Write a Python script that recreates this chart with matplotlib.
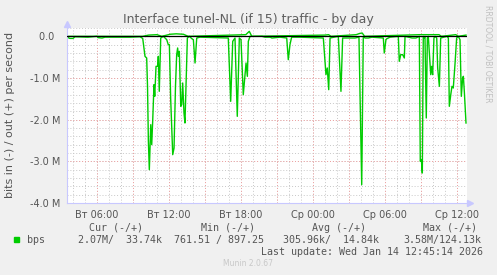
import numpy as np
import matplotlib
matplotlib.use("Agg")
import matplotlib.pyplot as plt

# inbound traffic (drawn negative), Mbit/s, hours since Tue 00:00
in_hours = [3.50, 3.75, 4.00, 4.17, 5.25, 6.00, 6.08, 6.42, 6.67, 8.25, 8.75, 9.58,
            9.81, 9.92, 10.00, 10.14, 10.21, 10.28, 10.36, 10.48, 10.56, 10.64, 10.75,
            10.81, 10.92, 11.06, 11.11, 11.19, 11.31, 11.53, 11.67, 11.81, 11.94, 12.03,
            12.14, 12.31, 12.42, 12.54, 12.64, 12.72, 12.78, 12.86, 12.98, 13.06, 13.14,
            13.25, 13.33, 13.42, 13.53, 13.69, 13.92, 14.03, 14.17, 14.31, 14.58, 16.94,
            17.14, 17.31, 17.50, 17.69, 17.86, 18.00, 18.19, 18.33, 18.42, 18.53, 18.61,
            18.75, 19.75, 20.00, 20.42, 20.58, 21.25, 21.81, 21.94, 22.08, 22.22, 22.92,
            24.86, 25.08, 25.19, 25.31, 25.42, 26.11, 26.33, 26.47, 27.50, 27.83, 28.06,
            28.19, 28.33, 28.61, 28.92, 29.86, 29.94, 30.08, 30.14, 30.42, 31.11, 31.19,
            31.31, 31.47, 31.61, 31.67, 32.25, 32.58, 32.86, 32.94, 33.03, 33.11, 33.19,
            33.25, 33.33, 33.44, 33.53, 33.61, 33.69, 33.81, 33.89, 33.97, 34.08, 34.17,
            34.31, 34.39, 34.53, 34.64, 35.17, 35.28, 35.36, 35.48, 35.58, 35.69, 35.83,
            35.97, 36.11, 36.25, 36.36, 36.47, 36.53, 36.61, 36.75]
in_mbit = [0.02, 0.05, 0.05, 0.01, 0.02, 0.00, 0.03, 0.04, 0.02, 0.02, 0.02, 0.01,
           0.05, 0.30, 0.48, 0.52, 1.20, 2.50, 3.20, 2.12, 2.60, 2.04, 1.16,
           1.44, 0.72, 0.72, 0.48, 1.32, 0.04, 0.00, 0.04, 0.08, 0.20, 0.20,
           1.50, 2.84, 2.68, 1.20, 0.44, 0.28, 0.48, 0.36, 1.68, 1.64, 1.12,
           1.84, 2.08, 1.16, 0.04, 0.00, 0.06, 0.08, 0.64, 0.04, 0.02, 0.04,
           1.56, 0.12, 0.04, 1.92, 0.04, 0.08, 1.40, 0.92, 0.64, 0.96, 0.12,
           0.00, 0.00, 0.02, 0.02, 0.04, 0.02, 0.04, 0.56, 0.20, 0.02, 0.02,
           0.04, 0.92, 0.76, 1.28, 0.04, 0.00, 1.32, 0.04, 0.04, 0.02, 3.56,
           0.00, 0.04, 0.04, 0.02, 0.04, 0.40, 0.08, 0.06, 0.02, 0.00, 0.60,
           0.44, 0.44, 0.52, 0.00, 0.04, 0.04, 0.00, 3.00, 2.96, 3.28, 0.00,
           0.04, 0.00, 1.96, 0.04, 0.00, 0.36, 0.92, 0.72, 0.92, 0.04, 0.00,
           0.04, 0.76, 1.20, 0.04, 0.00, 0.04, 1.68, 1.40, 1.20, 1.24, 0.68,
           0.04, 0.00, 0.08, 1.44, 1.00, 0.96, 1.32, 2.08]

# outbound traffic (drawn positive), Mbit/s
out_hours = [3.5, 9.8, 10.3, 11.0, 11.4, 12.1, 12.6, 13.2, 13.6, 18.4, 18.69, 18.9,
             25.0, 25.3, 25.5, 27.6, 27.9, 28.1, 28.3, 32.9, 34.5, 34.7, 35.9, 36.1, 36.75]
out_mbit = [0.0, 0.0, 0.03, 0.04, 0.0, 0.05, 0.06, 0.05, 0.0, 0.04, 0.12, 0.0,
            0.03, 0.04, 0.0, 0.04, 0.07, 0.08, 0.0, 0.04, 0.04, 0.0, 0.04, 0.0, 0.03]

x_ticks = [6, 12, 18, 24, 30, 36]
x_labels = ["Вт 06:00", "Вт 12:00", "Вт 18:00", "Ср 00:00", "Ср 06:00", "Ср 12:00"]
y_ticks = [0, -1, -2, -3, -4]
y_labels = ["0.0  ", "-1.0 M", "-2.0 M", "-3.0 M", "-4.0 M"]

legend_heads = ["Cur (-/+)", "Min (-/+)", "Avg (-/+)", "Max (-/+)"]
legend_vals = ["2.07M/  33.74k", "761.51 / 897.25", "305.96k/  14.84k", "3.58M/124.13k"]

W, H = 497, 275
fig = plt.figure(figsize=(W / 100, H / 100), dpi=100, facecolor="#f0f0f0")
ax = fig.add_axes([67 / W, 1 - 203 / H, 400 / W, 175 / H])
ax.set_facecolor("white")

grey = "#555555"
t0, t1 = 3.5, 3.5 + 400 / 12
ax.set_xlim(t0, t1)
ax.set_ylim(-4.0, 0.2)

dot = (0, (1, 2))
for h in np.arange(4, t1, 1):
    ax.axvline(h, color="#c8c8c8", lw=0.7, ls=dot, zorder=0)
for h in np.arange(6, t1, 3):
    ax.axvline(h, color="#f0a0a0", lw=0.7, ls=dot, zorder=0)
for v in np.arange(-3.8, 0.21, 0.2):
    ax.axhline(v, color="#c8c8c8", lw=0.7, ls=dot, zorder=0)
for v in [-3, -2, -1, 0]:
    ax.axhline(v, color="#f0a0a0", lw=0.7, ls=dot, zorder=0)

ax.plot(in_hours, -np.array(in_mbit), color="#00cc00", lw=1.0, zorder=2)
ax.plot(out_hours, out_mbit, color="#00cc00", lw=1.0, zorder=2)
ax.axhline(0, color="black", lw=0.9, zorder=3)

for s in ["top", "right"]:
    ax.spines[s].set_visible(False)
for s in ["left", "bottom"]:
    ax.spines[s].set_color("#c8c8ff")
    ax.spines[s].set_linewidth(0.8)
ax.plot([0], [1.025], marker="^", ms=4, color="#c8c8ff", transform=ax.transAxes, clip_on=False)
ax.plot([1.008], [0], marker=">", ms=4, color="#c8c8ff", transform=ax.transAxes, clip_on=False)

ax.set_xticks(x_ticks)
ax.set_xticklabels(x_labels)
ax.set_yticks(y_ticks)
ax.set_yticklabels(y_labels)
ax.tick_params(length=0, labelsize=7, colors=grey, pad=5)

fig.text(248 / W, 1 - 19 / H, "Interface tunel-NL (if 15) traffic - by day",
         ha="center", va="center", fontsize=9, color="#606060")
fig.text(10 / W, 1 - 115 / H, "bits in (-) / out (+) per second", rotation=90,
         ha="center", va="center", fontsize=8, color=grey)
fig.text(488 / W, 1 - 5 / H, "RRDTOOL / TOBI OETIKER", rotation=270,
         ha="center", va="top", fontsize=5.5, color="#c0c0c0")

mono = "DejaVu Sans Mono"
for x, t in zip([116, 228, 339, 450], legend_heads):
    fig.text(x / W, 1 - 228 / H, t, ha="center", va="center", fontsize=7.2,
             family=mono, color=grey)
fig.patches.append(plt.Rectangle((14 / W, 1 - 242 / H), 5 / W, 5 / H,
                                 transform=fig.transFigure, color="#00cc00"))
fig.text(27 / W, 1 - 240 / H, "bps", ha="left", va="center", fontsize=7.2,
         family=mono, color=grey)
for x, t in zip([78, 174, 283, 403], legend_vals):
    fig.text(x / W, 1 - 240 / H, t, ha="left", va="center", fontsize=7.2,
             family=mono, color=grey)
fig.text(483 / W, 1 - 252 / H, "Last update: Wed Jan 14 12:45:14 2026",
         ha="right", va="center", fontsize=7.2, family=mono, color=grey)
fig.text(248 / W, 1 - 264 / H, "Munin 2.0.67", ha="center", va="center",
         fontsize=5.5, color="#c8c8c8")

fig.savefig("out.png", dpi=100, facecolor=fig.get_facecolor())
